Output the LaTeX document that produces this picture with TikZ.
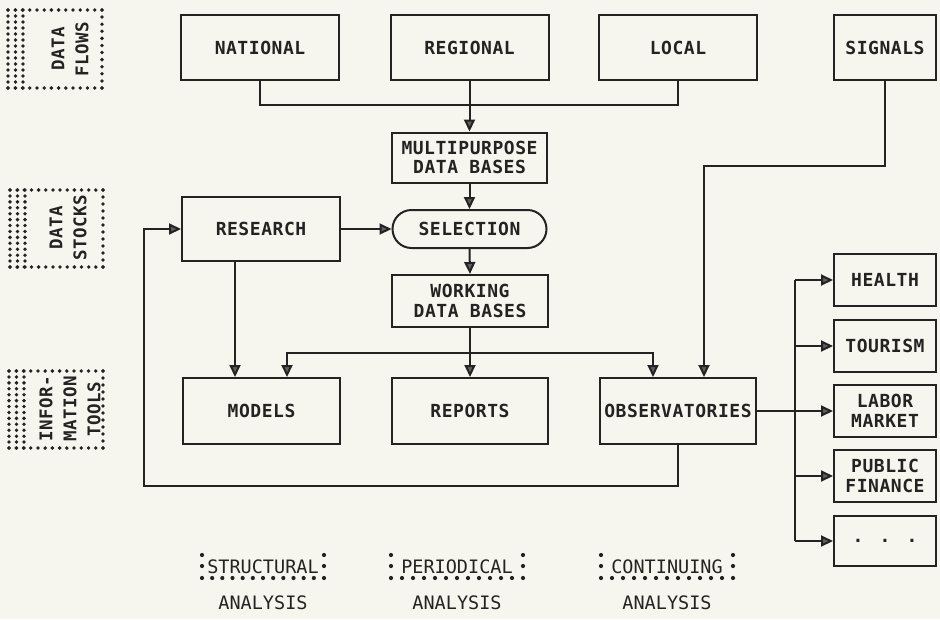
\documentclass[tikz,border=0pt]{standalone}
\usepackage{fontspec}
\newfontfamily\plotfont[LetterSpace=3]{DejaVu Sans Mono}
\newfontfamily\plainplot{DejaVu Sans Mono}
\usetikzlibrary{arrows.meta,shapes.misc}
\definecolor{paper}{RGB}{247,246,238}
\definecolor{ink}{RGB}{35,35,35}
\definecolor{tipfill}{RGB}{95,95,95}
\tikzset{
  box/.style={draw=ink, line width=2pt, minimum width=158pt, minimum height=65pt,
    inner sep=0pt, text=ink, align=center,
    font=\plotfont\bfseries\fontsize{18}{19.5}\selectfont},
  sbox/.style={box, minimum width=102pt, minimum height=52pt},
  arr/.style={draw=ink, line width=2pt, -{Triangle[length=12pt,width=11pt,fill=tipfill]}},
  ln/.style={draw=ink, line width=2pt},
  legtxt/.style={rotate=90, text=ink, inner sep=0pt, font=\plotfont\bfseries\fontsize{17.5}{18}\selectfont},
  lbl/.style={text=ink, inner sep=0pt, font=\plainplot\fontsize{18.5}{19}\selectfont}
}
\newcommand\legframe[4]{%
  \foreach \i in {0,...,13}{\fill[ink] ({#1+\i*(#3-#1)/13},#2) circle (1.9pt);
                            \fill[ink] ({#1+\i*(#3-#1)/13},#4) circle (1.9pt);}
  \foreach \j in {0,...,11}{\fill[ink] (#3,{#2+\j*(#4-#2)/11}) circle (1.9pt);}
  \foreach \c in {0,1,2}{\foreach \j in {0,...,13}{\fill[ink] ({#1+\c*7.5},{#2+\j*(#4-#2)/13}) circle (1.9pt);}}
}
\newcommand\anl[4]{%
  \node[lbl] (#1w) at (#2,567) {#4};
  \node[lbl] (#1a) at (#2,603) {ANALYSIS};
  \foreach \yy in {555,566}{\fill[ink] ({#2-#3},\yy) circle (2.1pt);
                            \fill[ink] ({#2+#3},\yy) circle (2.1pt);}
  \foreach \i in {0,...,12}{\fill[ink] ({#2-#3+\i*2*#3/12},578) circle (2.1pt);}
}
\begin{document}
\begin{tikzpicture}[x=1pt,y=-1pt]
\fill[paper] (0,0) rectangle (940,619);
\useasboundingbox (0,0) rectangle (940,619);

% legend frames
\legframe{8}{10}{102}{88}
\node[legtxt] (lg1a) at (58,49) {DATA};
\node[legtxt] (lg1b) at (82,49) {FLOWS};
\legframe{10}{190}{103}{267}
\node[legtxt] (lg2a) at (56,228) {DATA};
\node[legtxt] (lg2b) at (80,228) {STOCKS};
\legframe{9}{371}{103}{448}
\node[legtxt] (lg3a) at (46,409) {INFOR-};
\node[legtxt] (lg3b) at (70,409) {MATION};
\node[legtxt] (lg3c) at (94,409) {TOOLS};

% boxes
\node[box] (nat) at (260,47.5) {NATIONAL};
\node[box] (reg) at (469.5,47.5) {REGIONAL};
\node[box] (loc) at (678,47.5) {LOCAL};
\node[box, minimum width=102pt] (sig) at (885,47.5) {SIGNALS};
\node[box, minimum width=155pt, minimum height=50pt] (mdb) at (469.5,157.5) {MULTIPURPOSE\\DATA BASES};
\node[box, rounded rectangle, minimum width=154pt, minimum height=38pt] (sel) at (469.5,229) {SELECTION};
\node[box, minimum height=64pt] (res) at (261,229) {RESEARCH};
\node[box, minimum width=156pt, minimum height=52pt] (wdb) at (470,301) {WORKING\\DATA BASES};
\node[box, minimum width=157pt, minimum height=66pt] (mod) at (261.5,411) {MODELS};
\node[box, minimum width=156pt, minimum height=66pt] (rep) at (470,411) {REPORTS};
\node[box, minimum width=156pt, minimum height=66pt] (obs) at (678,411) {OBSERVATORIES};
\node[sbox] (hea) at (885,280) {HEALTH};
\node[sbox] (tou) at (885,346) {TOURISM};
\node[sbox] (lab) at (885,411) {LABOR\\MARKET};
\node[sbox] (pub) at (885,476) {PUBLIC\\FINANCE};
\node[sbox, minimum height=50pt] (etc) at (885,541) {.\hspace{0.9em}.\hspace{0.9em}.};

% connectors
\coordinate (j1) at (469.5,105);
\draw[ln] (nat.south) |- (j1) -| (loc.south);
\draw[arr] (reg.south) -- (mdb.north);
\draw[arr] (mdb.south) -- (sel.north);
\draw[arr] (sel.south) -- (wdb.north);
\draw[arr] (res.east) -- (sel.west);
\draw[arr] (wdb.south) -- (rep.north);
\coordinate (j2) at (470,353);
\draw[arr] (j2) -| ([xshift=25.5pt]mod.north);
\draw[arr] (j2) -| ([xshift=-25pt]obs.north);
\draw[arr] ([xshift=-26pt]res.south) -- ([xshift=-26.5pt]mod.north);
\coordinate (s1) at (704,166);
\draw[arr] (sig.south) |- (s1) -- (s1 |- obs.north);
\coordinate (l1) at (144,486);
\draw[arr] (obs.south) |- (l1) |- (res.west);
\draw[arr] (obs.east) -- (lab.west);
\coordinate (bx) at (795,0);
\draw[ln] (bx |- hea.west) -- (bx |- etc.west);
\foreach \n in {hea,tou,pub,etc}{\draw[arr] (bx |- \n.west) -- (\n.west);}

% bottom labels
\anl{str}{263}{61}{STRUCTURAL}
\anl{per}{457}{66}{PERIODICAL}
\anl{con}{667}{66}{CONTINUING}
\end{tikzpicture}
\end{document}
